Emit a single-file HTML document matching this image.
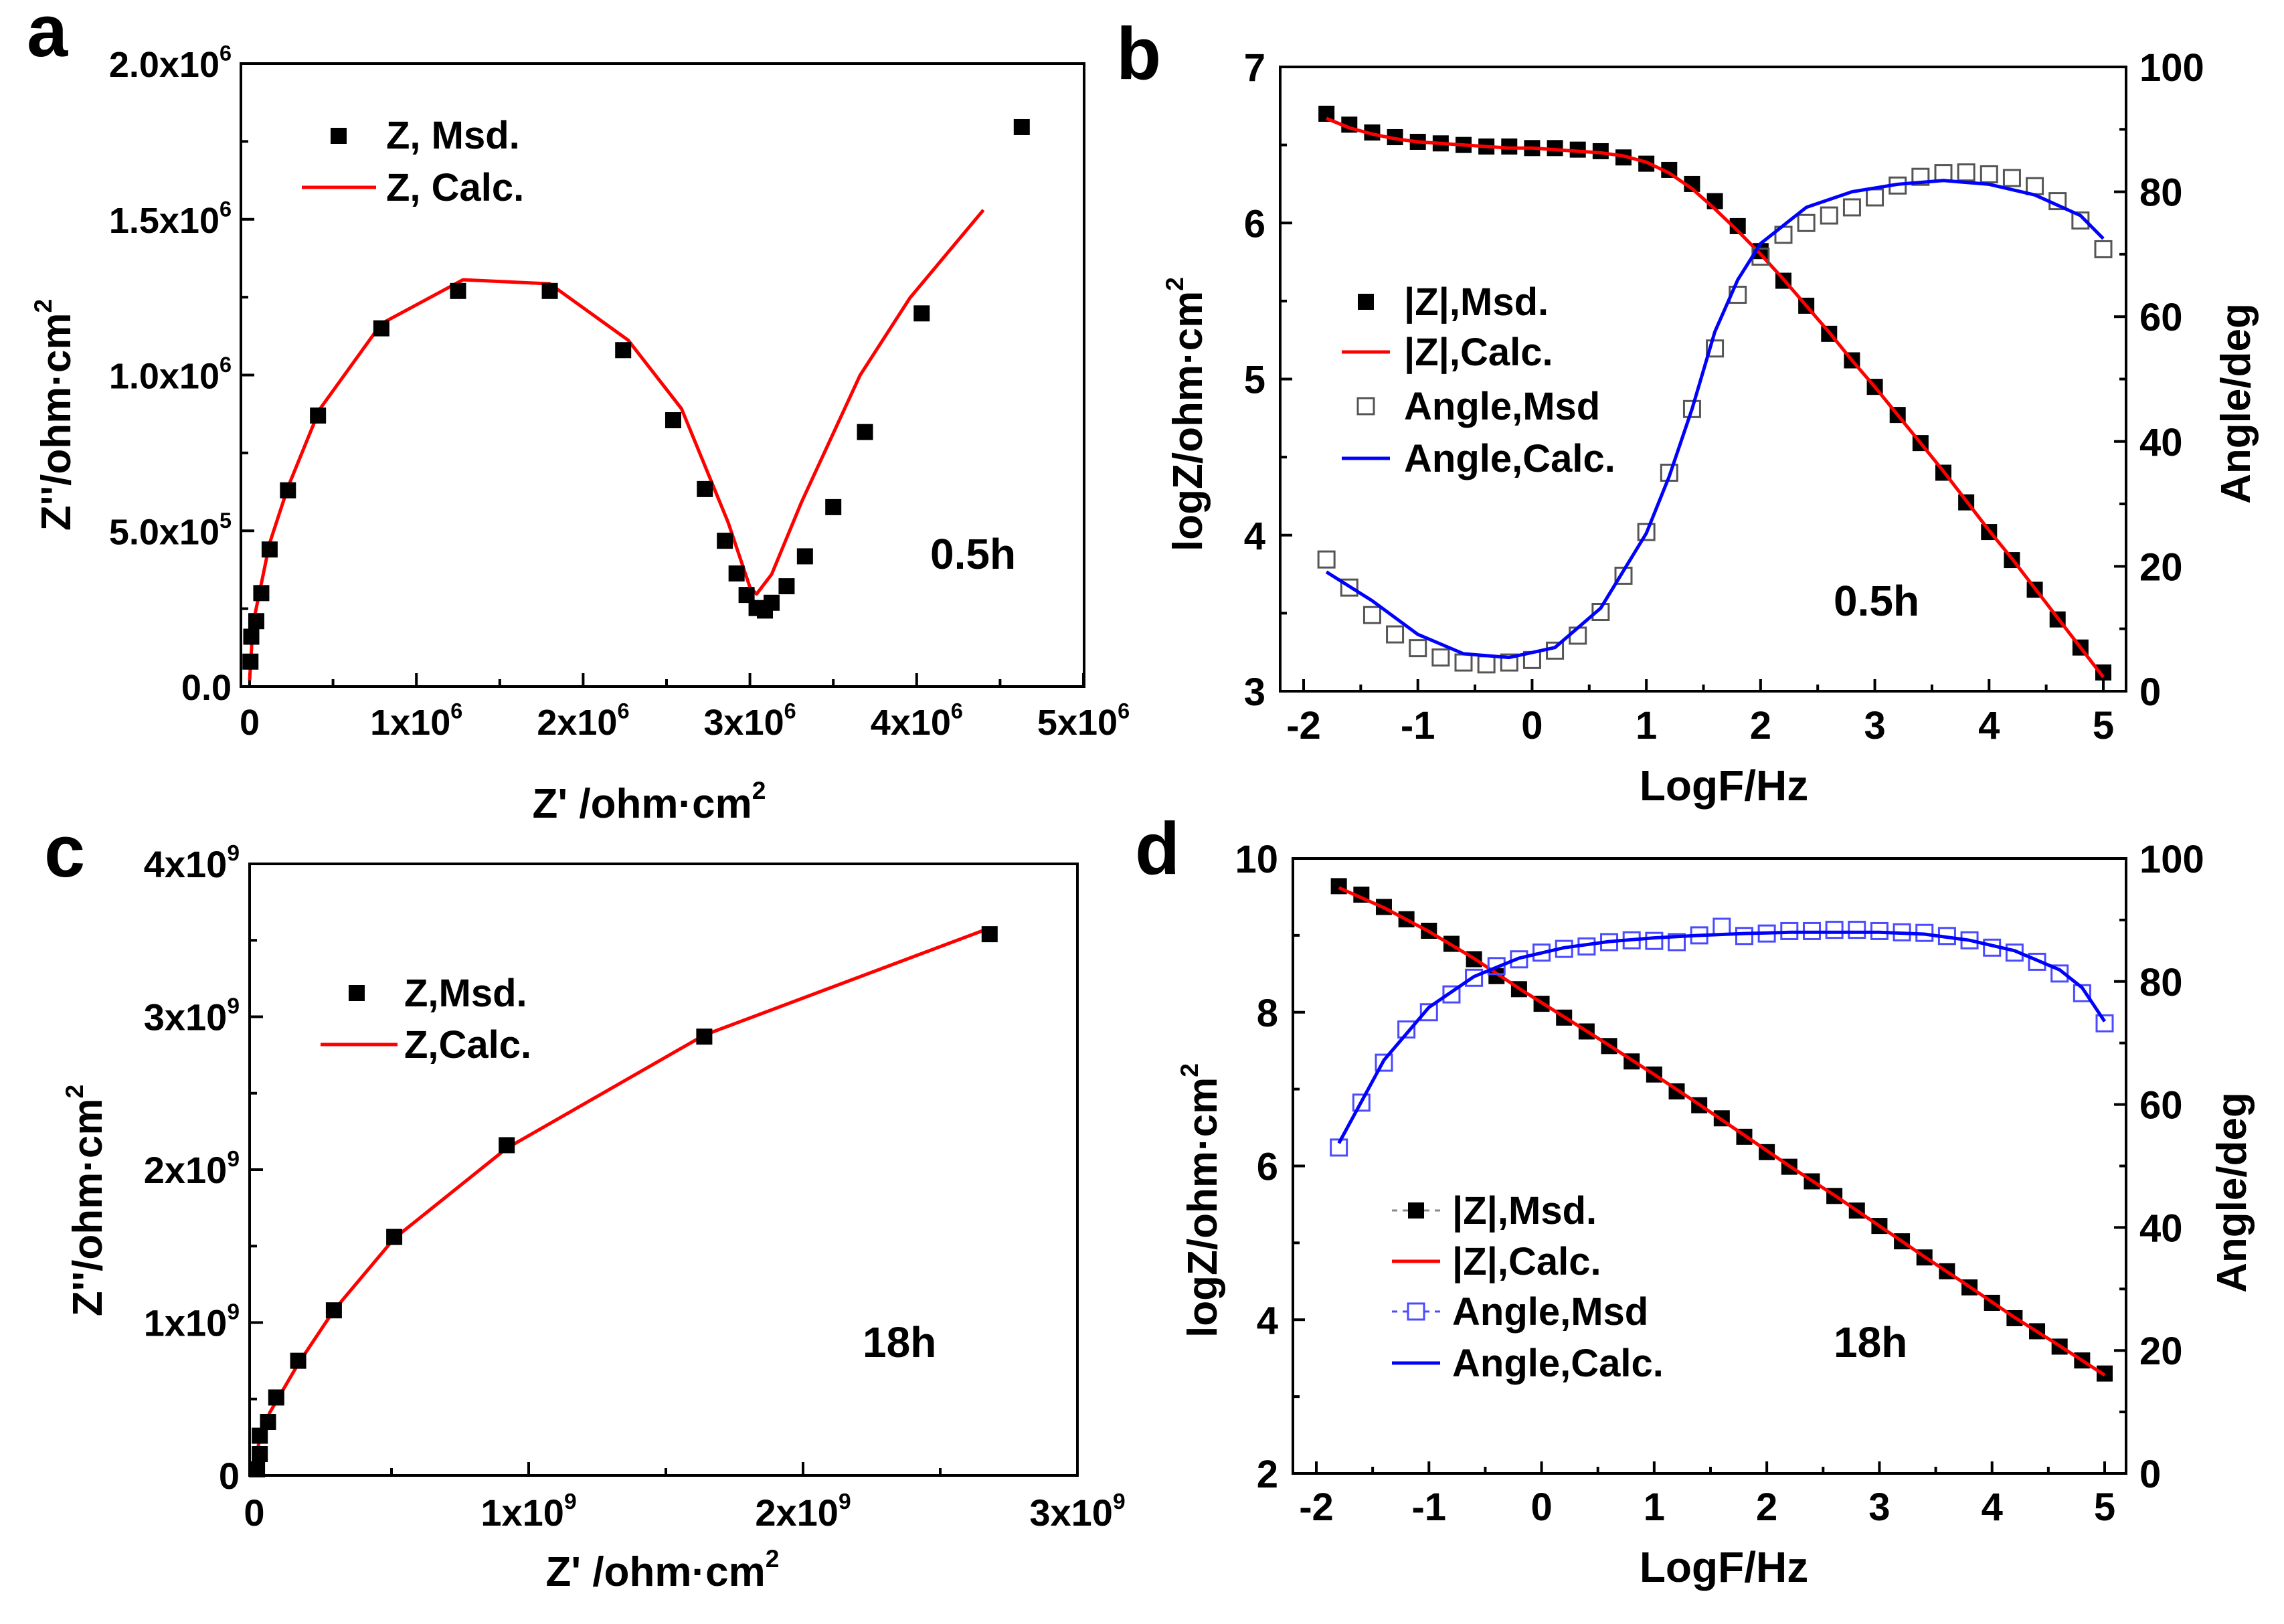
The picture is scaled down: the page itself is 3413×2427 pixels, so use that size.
<!DOCTYPE html>
<html><head><meta charset="utf-8">
<style>
html,body{margin:0;padding:0;background:#fff;}
svg{display:block;font-family:"Liberation Sans",Arial,sans-serif;font-weight:bold;}
</style></head>
<body>
<svg id="fig" width="3413" height="2427" viewBox="0 0 3413 2427" xmlns="http://www.w3.org/2000/svg">
<rect width="3413" height="2427" fill="#fff"/>
<g id="root"></g>
</svg>
<script>
// ---------- Panel a data (Nyquist, 0.5h), units 1e6 ----------
const aMsdX = [0.005,0.01,0.04,0.07,0.12,0.23,0.41,0.79,1.25,1.80,2.24,2.54,2.73,2.85,2.92,2.98,3.04,3.09,3.13,3.22,3.33,3.50,3.69,4.03,4.63];
const aMsdY = [0.08,0.16,0.21,0.30,0.44,0.63,0.87,1.15,1.27,1.27,1.08,0.855,0.634,0.468,0.363,0.294,0.252,0.244,0.269,0.322,0.418,0.576,0.817,1.198,1.796];
const aCalcX = [0.0,0.02,0.12,0.23,0.42,0.79,1.28,1.80,2.27,2.59,2.87,3.0,3.04,3.13,3.31,3.66,3.96,4.40];
const aCalcY = [0.02,0.20,0.46,0.64,0.89,1.165,1.306,1.293,1.112,0.892,0.526,0.319,0.297,0.36,0.593,0.999,1.248,1.53];
const aXTicks = ["0","1x10^6","2x10^6","3x10^6","4x10^6","5x10^6"];
const aYTicks = ["0.0","5.0x10^5","1.0x10^6","1.5x10^6","2.0x10^6"];

// ---------- Panel b data (Bode, 0.5h) ----------
const bFreq = [-1.8,-1.6,-1.4,-1.2,-1.0,-0.8,-0.6,-0.4,-0.2,0,0.2,0.4,0.6,0.8,1.0,1.2,1.4,1.6,1.8,2.0,2.2,2.4,2.6,2.8,3.0,3.2,3.4,3.6,3.8,4.0,4.2,4.4,4.6,4.8,5.0];
const bZMsd = [6.70,6.63,6.58,6.55,6.52,6.51,6.50,6.49,6.49,6.48,6.48,6.47,6.46,6.42,6.38,6.34,6.25,6.14,5.98,5.82,5.63,5.47,5.29,5.12,4.95,4.77,4.59,4.40,4.21,4.02,3.84,3.65,3.46,3.28,3.12];
const bZCalc = [6.67,6.61,6.57,6.54,6.52,6.51,6.50,6.49,6.48,6.48,6.47,6.46,6.45,6.43,6.39,6.32,6.22,6.09,5.95,5.80,5.64,5.47,5.30,5.12,4.95,4.77,4.59,4.41,4.22,4.03,3.85,3.66,3.47,3.28,3.09];
const bAngMsd = [21.1,16.6,12.2,9.1,6.9,5.4,4.6,4.3,4.6,5.0,6.5,8.9,12.7,18.5,25.5,35.0,45.2,54.9,63.5,69.6,73.1,75.0,76.2,77.5,79.1,81.0,82.4,83.0,83.1,82.8,82.2,80.9,78.5,75.4,70.8];
const bAngCalcF = [-1.8,-1.4,-1.0,-0.6,-0.2,0.2,0.6,1.0,1.2,1.4,1.6,1.8,2.0,2.4,2.8,3.2,3.6,4.0,4.4,4.8,5.0];
const bAngCalc = [19.1,14.5,9.1,6.0,5.4,7.0,13.3,25.3,34.4,45.2,57.6,65.9,71.7,77.5,80.0,81.2,81.8,81.2,79.5,76.2,72.5];
const bXTicks = ["-2","-1","0","1","2","3","4","5"];
const bYTicks = ["3","4","5","6","7"];
const bRTicks = ["0","20","40","60","80","100"];

// ---------- Panel c data (Nyquist, 18h), units 1e9 ----------
const cMsdX = [0.01,0.02,0.02,0.05,0.08,0.16,0.29,0.51,0.92,1.64,2.68];
const cMsdY = [0.04,0.14,0.26,0.35,0.51,0.75,1.08,1.56,2.16,2.87,3.54];
const cCalcX = [0.0,0.016,0.056,0.16,0.29,0.51,0.92,1.64,2.68];
const cCalcY = [0.02,0.21,0.41,0.73,1.08,1.55,2.14,2.88,3.58];
const cXTicks = ["0","1x10^9","2x10^9","3x10^9"];
const cYTicks = ["0","1x10^9","2x10^9","3x10^9","4x10^9"];

// ---------- Panel d data (Bode, 18h) ----------
const dFreq = bFreq;
const dZMsd = [9.64,9.53,9.37,9.21,9.06,8.89,8.69,8.47,8.30,8.11,7.93,7.75,7.56,7.36,7.19,6.97,6.79,6.62,6.38,6.18,5.99,5.80,5.61,5.42,5.22,5.02,4.81,4.63,4.42,4.22,4.02,3.85,3.65,3.47,3.30];
const dZCalcF = [-1.8,-1.4,-1.0,-0.6,-0.2,0.2,0.6,1.0,1.4,1.8,2.2,2.6,3.0,3.4,3.8,4.2,4.6,5.0];
const dZCalc = [9.62,9.36,9.05,8.70,8.31,7.94,7.57,7.19,6.80,6.40,6.00,5.62,5.22,4.82,4.43,4.03,3.66,3.28];
const dAngMsd = [53.0,60.3,66.8,72.2,75.0,77.9,80.6,82.5,83.6,84.7,85.3,85.7,86.4,86.7,86.6,86.4,87.5,88.9,87.4,87.8,88.2,88.2,88.4,88.4,88.2,88.0,87.9,87.4,86.7,85.5,84.7,83.2,81.3,78.1,73.2];
const dAngCalcF = [-1.8,-1.4,-1.0,-0.6,-0.2,0.2,0.6,1.0,1.4,1.8,2.2,2.6,3.0,3.4,3.8,4.2,4.6,4.8,5.0];
const dAngCalc = [53.7,67.2,75.8,80.8,83.8,85.5,86.5,87.1,87.5,87.8,88.0,88.0,88.0,87.7,86.7,85.0,81.9,79.0,73.5];
const dXTicks = ["-2","-1","0","1","2","3","4","5"];
const dYTicks = ["2","4","6","8","10"];
const dRTicks = ["0","20","40","60","80","100"];

const NS = "http://www.w3.org/2000/svg";
const root = document.getElementById("root");
function el(tag, attrs, parent){
  const e = document.createElementNS(NS, tag);
  for (const k in attrs) e.setAttribute(k, attrs[k]);
  (parent||root).appendChild(e);
  return e;
}
function lin(d0,d1,r0,r1){ return v => r0 + (v-d0)*(r1-r0)/(d1-d0); }
function fill(t, txt, size){
  const parts = txt.split("^");
  const t1 = document.createElementNS(NS,"tspan"); t1.textContent = parts[0]; t.appendChild(t1);
  if (parts.length>1){
    const t2 = document.createElementNS(NS,"tspan");
    t2.setAttribute("font-size", size*0.6);
    t2.setAttribute("dy", -size*0.45);
    t2.textContent = parts[1]; t.appendChild(t2);
  }
}
function label(txt, x, y, size, anchor, parent){
  const t = el("text", {x:x, y:y, "font-size":size, "text-anchor":anchor, fill:"#000"}, parent);
  fill(t, txt, size);
  return t;
}
function pathFrom(xs, ys, sx, sy){
  return xs.map((v,i)=>(i?"L":"M")+sx(v).toFixed(1)+","+sy(ys[i]).toFixed(1)).join(" ");
}
function frame(g, L, T, R, B){
  const r = el("rect",{x:L,y:T,width:R-L,height:B-T,fill:"none",stroke:"#000","stroke-width":4},g);
  
  
}
function tick(g,x1,y1,x2,y2){ el("line",{x1:x1,y1:y1,x2:x2,y2:y2,stroke:"#000","stroke-width":4},g); }
function squares(g, xs, ys, sx, sy, filled, color, name){
  xs.forEach((v,i)=>{
    const s=24;
    const r = el("rect",{x:sx(v)-s/2,y:sy(ys[i])-s/2,width:s,height:s,
      fill: filled?"#000":"none", stroke: filled?"#000":color, "stroke-width": filled?0:3},g);
    
    
  });
}
function line(g, xs, ys, sx, sy, color, name){
  const p = el("path",{d:pathFrom(xs,ys,sx,sy),fill:"none",stroke:color,"stroke-width":5,"stroke-linejoin":"round"},g);
  
  
}
function ytitle(g, txt, x, y, size){
  const t = el("text",{x:0,y:0,"font-size":size,"text-anchor":"middle",transform:`translate(${x},${y}) rotate(-90)`},g);
  fill(t, txt, size);
  return t;
}
function panelLetter(txt,x,y){
  const t = el("text",{x:x,y:y,"font-size":110,"text-anchor":"start"});
  t.textContent = txt;
  
  
}

// ===== Panel a =====
(function(){
  const g = el("g",{});
  
  
  const L=360,R=1620,T=95,B=1026;
  const sx = lin(0,5,373,1619), sy = lin(0,2,1026,95);
  frame(g,L,T,R,B);
  aXTicks.forEach((t,i)=>{ tick(g,sx(i),B,sx(i),B-20); if(i<5) tick(g,sx(i+0.5),B,sx(i+0.5),B-11);
    const lb=label(t,sx(i),1098,54,"middle",g);   });
  aYTicks.forEach((t,i)=>{ const v=i*0.5; tick(g,L,sy(v),L+20,sy(v)); if(i<4) tick(g,L,sy(v+0.25),L+11,sy(v+0.25));
    const lb=label(t,346,sy(v)+20,54,"end",g);   });
  line(g,aCalcX,aCalcY,sx,sy,"#ff0000","z-calc-line");
  squares(g,aMsdX,aMsdY,sx,sy,true,"#000","z-msd-point");
  const xt=label("Z' /ohm·cm^2",970,1222,62,"middle",g);  
  const yt=ytitle(g,"Z''/ohm·cm^2",105,620,62);  
  const m=el("rect",{x:494,y:191,width:24,height:24,fill:"#000"},g);  
  const l1=label("Z, Msd.",577,222,58,"start",g);  
  const ln=el("line",{x1:451,y1:280,x2:562,y2:280,stroke:"#ff0000","stroke-width":5},g);  
  const l2=label("Z, Calc.",577,300,58,"start",g);  
  const ann=label("0.5h",1390,850,64,"start",g);  
})();

// ===== Bode helper =====
function bode(cfg){
  const g = el("g",{});
  
  
  const {L,R,T,B} = cfg;
  const sx = lin(-2,5,cfg.x0,cfg.x5);
  const syL = lin(cfg.yMin,cfg.yMax,B,T);
  const syR = lin(0,100,B,T);
  frame(g,L,T,R,B);
  cfg.xt.forEach((t,i)=>{ const v=i-2; tick(g,sx(v),B,sx(v),B-18); if(i<7) tick(g,sx(v+0.5),B,sx(v+0.5),B-10);
    const lb=label(t,sx(v),cfg.xly,58,"middle",g);   });
  const step=(cfg.yMax-cfg.yMin)/(cfg.yt.length-1);
  cfg.yt.forEach((t,i)=>{ const v=cfg.yMin+i*step; tick(g,L,syL(v),L+18,syL(v)); if(i<cfg.yt.length-1) tick(g,L,syL(v+step/2),L+10,syL(v+step/2));
    const lb=label(t,L-22,syL(v)+21,58,"end",g);   });
  cfg.rt.forEach((t,i)=>{ const v=i*20; tick(g,R,syR(v),R-18,syR(v)); if(i<5) tick(g,R,syR(v+10),R-10,syR(v+10));
    const lb=label(t,R+20,syR(v)+21,58,"start",g);   });
  squares(g,cfg.f,cfg.zm,sx,syL,true,"#000","z-msd-point");
  line(g,cfg.zcf,cfg.zc,sx,syL,"#ff0000","z-calc-line");
  squares(g,cfg.f,cfg.am,sx,syR,false,cfg.hollow,"angle-msd-point");
  line(g,cfg.acf,cfg.ac,sx,syR,"#0000ff","angle-calc-line");
  const xt=label("LogF/Hz",2576,cfg.titleY,64,"middle",g);  
  const yt=ytitle(g,"logZ/ohm·cm^2",cfg.ltx,cfg.lty,62);  
  const rt=ytitle(g,"Angle/deg",cfg.rtx,cfg.rty,62);  
  const rows=cfg.legY, lx=cfg.legX;
  if(cfg.dashedLeg){ const d=el("line",{x1:lx-36,y1:rows[0],x2:lx+36,y2:rows[0],stroke:"#888","stroke-width":3,"stroke-dasharray":"8,8"},g);  
    const d2=el("line",{x1:lx-36,y1:rows[2],x2:lx+36,y2:rows[2],stroke:cfg.hollow,"stroke-width":3,"stroke-dasharray":"8,8"},g);   }
  const m1=el("rect",{x:lx-12,y:rows[0]-12,width:24,height:24,fill:"#000"},g);  
  const m2=el("line",{x1:lx-36,y1:rows[1],x2:lx+36,y2:rows[1],stroke:"#ff0000","stroke-width":5},g);  
  const m3=el("rect",{x:lx-12,y:rows[2]-12,width:24,height:24,fill:"#fff",stroke:cfg.hollow,"stroke-width":3},g);  
  const m4=el("line",{x1:lx-36,y1:rows[3],x2:lx+36,y2:rows[3],stroke:"#0000ff","stroke-width":5},g);  
  const names=["|Z|,Msd.","|Z|,Calc.","Angle,Msd","Angle,Calc."];
  names.forEach((n,i)=>{ const t=label(n,cfg.legTX,rows[i]+20,58,"start",g);   });
  const ann=label(cfg.ann,cfg.annX,cfg.annY,64,"start",g);  
}
bode({name:"panel-b-bode-0.5h",L:1913,R:3177,T:100,B:1033,x0:1948,x5:3143,yMin:3,yMax:7,xt:bXTicks,yt:bYTicks,rt:bRTicks,
  xly:1104,titleY:1196,f:bFreq,zm:bZMsd,zcf:bFreq,zc:bZCalc,am:bAngMsd,acf:bAngCalcF,ac:bAngCalc,hollow:"#555",
  ltx:1796,lty:619,rtx:3362,rty:603,legX:2041,legY:[451,526,607,685],legTX:2098,dashedLeg:false,ann:"0.5h",annX:2740,annY:920});
bode({name:"panel-d-bode-18h",L:1932,R:3177,T:1283,B:2202,x0:1967,x5:3145,yMin:2,yMax:10,xt:dXTicks,yt:dYTicks,rt:dRTicks,
  xly:2272,titleY:2364,f:dFreq,zm:dZMsd,zcf:dZCalcF,zc:dZCalc,am:dAngMsd,acf:dAngCalcF,ac:dAngCalc,hollow:"#4a4aff",
  ltx:1818,lty:1794,rtx:3356,rty:1782,legX:2116,legY:[1809,1885,1960,2037],legTX:2170,dashedLeg:true,ann:"18h",annX:2740,annY:2028});

// ===== Panel c =====
(function(){
  const g = el("g",{});
  
  
  const L=373,R=1610,T=1291,B=2205;
  const sx = lin(0,3,380,1610), sy = lin(0,4,2205,1291);
  frame(g,L,T,R,B);
  cXTicks.forEach((t,i)=>{ tick(g,sx(i),B,sx(i),B-20); if(i<3) tick(g,sx(i+0.5),B,sx(i+0.5),B-11);
    const lb=label(t,sx(i),2280,56,"middle",g);   });
  cYTicks.forEach((t,i)=>{ tick(g,L,sy(i),L+20,sy(i)); if(i<4) tick(g,L,sy(i+0.5),L+11,sy(i+0.5));
    const lb=label(t,358,sy(i)+20,56,"end",g);   });
  line(g,cCalcX,cCalcY,sx,sy,"#ff0000","z-calc-line");
  squares(g,cMsdX,cMsdY,sx,sy,true,"#000","z-msd-point");
  const xt=label("Z' /ohm·cm^2",990,2370,62,"middle",g);  
  const yt=ytitle(g,"Z''/ohm·cm^2",152,1794,62);  
  const m=el("rect",{x:521,y:1472,width:24,height:24,fill:"#000"},g);  
  const l1=label("Z,Msd.",604,1504,58,"start",g);  
  const ln=el("line",{x1:479,y1:1561,x2:594,y2:1561,stroke:"#ff0000","stroke-width":5},g);  
  const l2=label("Z,Calc.",604,1581,58,"start",g);  
  const ann=label("18h",1289,2028,64,"start",g);  
})();

panelLetter("a",40,84);
panelLetter("b",1668,118);
panelLetter("c",66,1310);
panelLetter("d",1696,1306);
</script>
</body></html>
